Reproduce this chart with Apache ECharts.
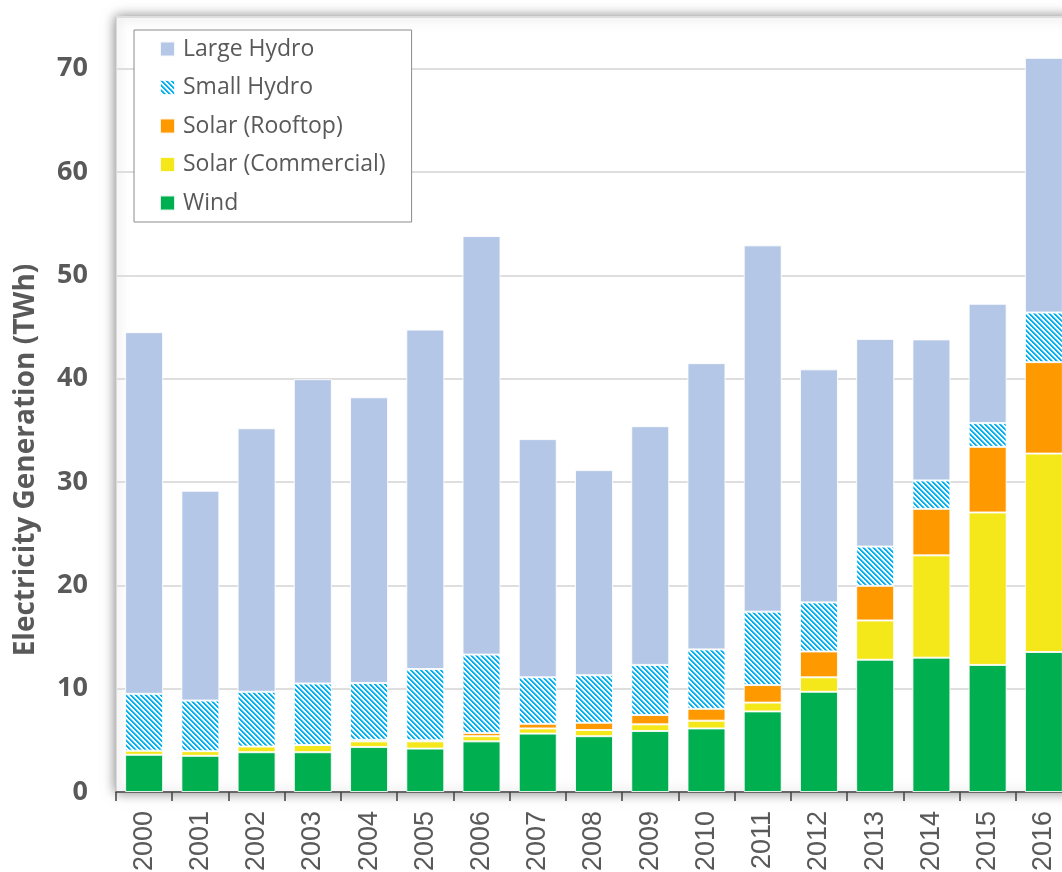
<!DOCTYPE html>
<html>
<head>
<meta charset="utf-8">
<title>Electricity Generation</title>
<script src="https://cdn.jsdelivr.net/npm/echarts@6/dist/echarts.min.js"></script>
<style>
  html, body { margin:0; padding:0; background:#fff; }
  #chartContent { width:1062px; height:872px; }
</style>
</head>
<body>
<div id="chartContent"></div>
<script>
var years = ['2000','2001','2002','2003','2004','2005','2006','2007','2008',
             '2009','2010','2011','2012','2013','2014','2015','2016'];
var wind = [3.6,3.5,3.85,3.85,4.35,4.2,4.9,5.65,5.4,5.9,6.15,7.8,9.7,12.8,13.0,12.3,13.55];
var solarCommercial = [0.4,0.45,0.55,0.7,0.55,0.7,0.5,0.5,0.6,0.65,0.75,0.85,1.4,3.8,9.9,14.75,19.2];
var solarRooftop = [0,0,0,0,0.15,0.1,0.3,0.45,0.7,0.9,1.15,1.7,2.5,3.35,4.5,6.35,8.85];
var smallHydro = [5.5,4.9,5.3,5.95,5.5,6.9,7.6,4.5,4.6,4.85,5.75,7.1,4.75,3.8,2.75,2.3,4.8];
var largeHydro = [35.0,20.3,25.5,29.45,27.65,32.85,40.5,23.05,19.85,23.1,27.7,35.45,22.55,20.1,13.65,11.55,24.65];
var yTicks = [0,10,20,30,40,50,60,70];

// diagonal stripes for small hydro
function stripes(){
  var n = 5;
  var c = document.createElement('canvas');
  c.width = n; c.height = n;
  var ctx = c.getContext('2d');
  ctx.fillStyle = '#ffffff';
  ctx.fillRect(0,0,n,n);
  for(var i=0;i<n;i++){
    for(var j=0;j<n;j++){
      var k = (((j-i)%n)+n)%n;
      if(k < 2){
        ctx.fillStyle = '#00B0F0';
        ctx.fillRect(j,i,1,1);
      }else if(k == 2){
        ctx.fillStyle = '#7fd6f6';
        ctx.fillRect(j,i,1,1);
      }
    }
  }
  return c;
}

function bar(name, data, color){
  return {
    name: name,
    type: 'bar',
    stack: 'gen',
    barWidth: 38,
    data: data,
    itemStyle: {
      color: color,
      borderColor: 'rgba(255,255,255,0.85)',
      borderWidth: 1
    },
    emphasis: { disabled: true }
  };
}

var chart = echarts.init(document.getElementById('chartContent'));
var option = {
  animation: false,
  textStyle: { fontFamily: 'Open Sans' },
  grid: {
    show: true,
    left: 116,
    top: 17,
    width: 956,
    height: 775,
    outerBoundsMode: 'none',
    backgroundColor: '#ffffff',
    borderColor: '#bfbfbf',
    borderWidth: 1,
    shadowBlur: 12,
    shadowColor: 'rgba(0,0,0,0.5)'
  },
  graphic: [{
    type: 'text',
    x: 26,
    y: 460,
    rotation: Math.PI / 2,
    style: {
      text: 'Electricity Generation (TWh)',
      fill: '#595959',
      fontSize: 28,
      fontWeight: 'bold',
      fontFamily: 'Open Sans',
      align: 'center',
      verticalAlign: 'middle'
    }
  }],
  legend: {
    orient: 'vertical',
    left: 134,
    top: 30,
    padding: [7, 26, 7, 25],
    itemGap: 14.5,
    itemWidth: 15,
    itemHeight: 15,
    icon: 'rect',
    backgroundColor: '#ffffff',
    borderColor: '#8c8c8c',
    borderWidth: 1,
    data: ['Large Hydro','Small Hydro','Solar (Rooftop)','Solar (Commercial)','Wind'],
    textStyle: {
      color: '#595959',
      fontSize: 23,
      fontFamily: 'Open Sans',
      lineHeight: 24,
      padding: [0,0,0,3]
    }
  },
  xAxis: {
    type: 'category',
    data: years,
    axisLine: { lineStyle: { color: '#404040', width: 1.5 } },
    axisTick: { show: true, alignWithLabel: false, length: 9, lineStyle: { color: '#404040', width: 1.5 } },
    axisLabel: {
      rotate: 90,
      margin: 19,
      color: '#595959',
      fontSize: 27,
      fontFamily: 'Liberation Sans'
    }
  },
  yAxis: {
    type: 'value',
    min: 0,
    max: 75,
    interval: 10,
    axisLine: { show: false },
    axisTick: { show: false },
    splitLine: { lineStyle: { color: '#dedede', width: 2 } },
    axisLabel: {
      margin: 28,
      color: '#595959',
      fontSize: 27,
      fontWeight: 'bold',
      fontFamily: 'Open Sans',
      showMaxLabel: false,
      formatter: function(v){ return yTicks.indexOf(v) >= 0 ? String(v) : ''; }
    }
  },
  series: [
    bar('Wind', wind, '#00B050'),
    bar('Solar (Commercial)', solarCommercial, '#F4E71A'),
    bar('Solar (Rooftop)', solarRooftop, '#FF9900'),
    bar('Small Hydro', smallHydro, { image: stripes(), repeat: 'repeat' }),
    bar('Large Hydro', largeHydro, '#B4C7E7')
  ]
};
chart.setOption(option);
</script>
</body>
</html>
